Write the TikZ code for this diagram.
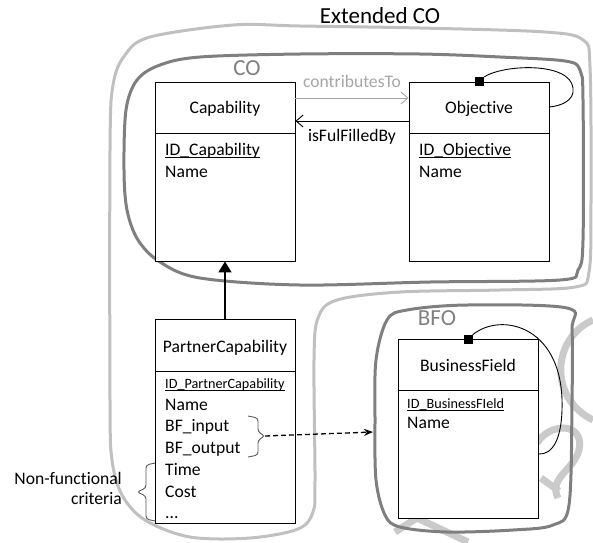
\documentclass[tikz,border=0pt]{standalone}
\usepackage{fontspec}
\setmainfont{Carlito}[Ligatures={NoCommon}]
\usetikzlibrary{arrows.meta}
\definecolor{blobdark}{HTML}{7F7F7F}
\definecolor{bloblight}{HTML}{C0C0C0}
\definecolor{labelgrey}{HTML}{808080}
\definecolor{assocgrey}{HTML}{A6A6A6}
\definecolor{markgrey}{HTML}{CACACA}
\definecolor{bracegrey}{HTML}{595959}

\begin{document}
\begin{tikzpicture}[x=1pt,y=-1pt,
  font=\fontsize{17.6}{21}\selectfont,
  classbox/.style={draw=black, line width=0.9pt, fill=white, inner sep=0pt, minimum width=140pt},
  title/.style={anchor=base, inner sep=0pt},
  attr/.style={anchor=base west, inner sep=0pt},
  smallattr/.style={attr, font=\fontsize{14.2}{17}\selectfont},
  grouplabel/.style={anchor=base, inner sep=0pt, text=labelgrey, font=\fontsize{23}{27}\selectfont},
  keyline/.style={line width=0.9pt},
  divider/.style={line width=0.9pt},
  selfmark/.style={fill=black, minimum size=9pt, inner sep=0pt},
  selfloop/.style={line width=0.9pt},
  assoc/.style={line width=0.9pt, -{Straight Barb[length=7pt,width=12pt]}},
  inherit/.style={line width=1.6pt, -{Triangle[length=11pt,width=13pt]}},
  depend/.style={line width=1.3pt, dash pattern=on 5pt off 3pt, -{Stealth[length=9pt,width=7pt]}},
  bracket/.style={draw=bracegrey, line width=0.9pt, rounded corners=3pt},
  blobouter/.style={draw=bloblight, line width=3pt},
  blobinner/.style={draw=blobdark, line width=3pt},
  wmark/.style={draw=markgrey, line width=7pt},
]
\useasboundingbox (0,0) rectangle (593,542);

% faint background strokes
\draw[wmark] (593,320) .. controls (552,338) and (548,398) .. (593,420);
\draw[wmark] (537,443) .. controls (550,422) and (585,422) .. (579,450)
  .. controls (574,470) and (548,478) .. (558,498);
\draw[wmark] (395,532) -- (417,518) -- (468,542);
\draw[wmark] (541,478) -- (559,491);

% Extended CO outline
\draw[blobouter] plot[smooth cycle, tension=0.55] coordinates {
  (233,25) (150,37) (125,55) (113,85) (110,150) (110,400) (112,460) (122,495)
  (145,520) (190,537) (250,538) (298,529) (313,512) (315,480) (314,360)
  (318,318) (337,300) (400,292) (500,290) (575,287) (589,272) (591,200)
  (590,67) (583,40) (545,32) (420,28) (300,26)};

% CO outline
\draw[blobinner] plot[smooth cycle, tension=0.55] coordinates {
  (124,170) (126,110) (137,80) (160,65) (200,57) (300,54) (420,54) (500,57)
  (565,61) (580,70) (583,100) (583,240) (578,270) (560,280) (430,282)
  (300,285) (200,278) (160,262) (138,240) (127,210)};

% BFO outline
\draw[blobinner] plot[smooth cycle, tension=0.55] coordinates {
  (376,360) (387,320) (407,310) (467,305) (567,308) (572,330) (572,400)
  (569,505) (553,525) (513,530) (447,532) (400,527) (385,515) (376,480)
  (375,420)};

% group labels
\node[anchor=base, inner sep=0pt, font=\fontsize{23}{27}\selectfont] (extlbl) at (380,23) {Extended CO};
\node[grouplabel] (colbl) at (247,75) {CO};
\node[grouplabel] (bfolbl) at (437,325) {BFO};

% classes
\node[classbox, minimum height=179pt] (cap) at (225,171.5) {};
\node[classbox, minimum height=179pt] (obj) at (479,172) {};
\node[classbox, minimum height=204pt] (part) at (225,421) {};
\node[classbox, minimum height=179pt] (bf) at (468,428.5) {};

\coordinate (capdiv) at (0,133);
\coordinate (partdiv) at (0,371);
\coordinate (bfdiv) at (0,390);
\draw[divider] (cap.west |- capdiv) -- (cap.east |- capdiv);
\draw[divider] (obj.west |- capdiv) -- (obj.east |- capdiv);
\draw[divider] (part.west |- partdiv) -- (part.east |- partdiv);
\draw[divider] (bf.west |- bfdiv) -- (bf.east |- bfdiv);

\node[title] (captitle) at (225,113) {Capability};
\node[title] (objtitle) at (479,113) {Objective};
\node[title] (parttitle) at (225,352) {PartnerCapability};
\node[title] (bftitle) at (468,371) {BusinessField};

\node[attr] (capid) at (165,155) {ID\_Capability};
\node[attr] (capname) at (165,177) {Name};
\node[attr] (objid) at (419,155) {ID\_Objective};
\node[attr] (objname) at (419,177) {Name};

\node[smallattr] (partid) at (165,388) {ID\_PartnerCapability};
\node[attr] (partname) at (165,410) {Name};
\node[attr] (partin) at (165,431) {BF\_input};
\node[attr] (partout) at (165,453) {BF\_output};
\node[attr] (parttime) at (165,475) {Time};
\node[attr] (partcost) at (165,497) {Cost};
\node[attr] (partmore) at (165,518) {...};

\node[smallattr] (bfid) at (407,408) {ID\_BusinessFIeld};
\node[attr] (bfname) at (407,428) {Name};

% key underlines
\foreach \k/\d in {capid/2.2pt, objid/2.2pt, partid/2pt, bfid/2pt}
  \draw[keyline] ([yshift=-\d]\k.base west) -- ([yshift=-\d]\k.base east);

% associations between Capability and Objective
\coordinate (ctrow) at (0,98);
\coordinate (ifrow) at (0,121);
\draw[assoc, draw=assocgrey] (cap.east |- ctrow) -- (obj.west |- ctrow);
\draw[assoc] (obj.west |- ifrow) -- (cap.east |- ifrow);
\node[title, text=assocgrey] (ctlbl) at (352,87) {contributesTo};
\node[title] (iflbl) at (352,141) {isFulFilledBy};

% self associations
\coordinate (objback) at (0,107);
\coordinate (bfback) at (0,454);
\node[selfmark] (objsq) at (479.5,81.5) {};
\draw[selfloop] (objsq.north east) .. controls (505,64) and (570,62) .. (573,88)
  .. controls (575,101) and (560,106) .. (obj.east |- objback);
\node[selfmark] (bfsq) at (468,339.5) {};
\draw[selfloop] (bfsq.north east) .. controls (500,312) and (560,325) .. (562,400)
  .. controls (563,440) and (552,455) .. (bf.east |- bfback);

% generalisation
\draw[inherit] (part.north) -- (cap.south);

% BF_input / BF_output bracket and dependency
\coordinate (brtip) at (265,436);
\coordinate (bfoin) at (373,432);
\draw[bracket] (248,416) -- (258,418) -- (258,432) -- (brtip) -- (258,440) -- (258,455) -- (248,457);
\draw[depend] (brtip) -- (bfoin);

% non-functional criteria brace
\coordinate (nftip) at (137,492);
\draw[bracket] (155,463) -- (146,465) -- (146,488) -- (nftip) -- (146,496) -- (146,519) -- (155,521);
\node[anchor=base east, inner sep=0pt] (nf1) at (122,484) {Non-functional};
\node[anchor=base east, inner sep=0pt] (nf2) at (122,504) {criteria};
\end{tikzpicture}
\end{document}
